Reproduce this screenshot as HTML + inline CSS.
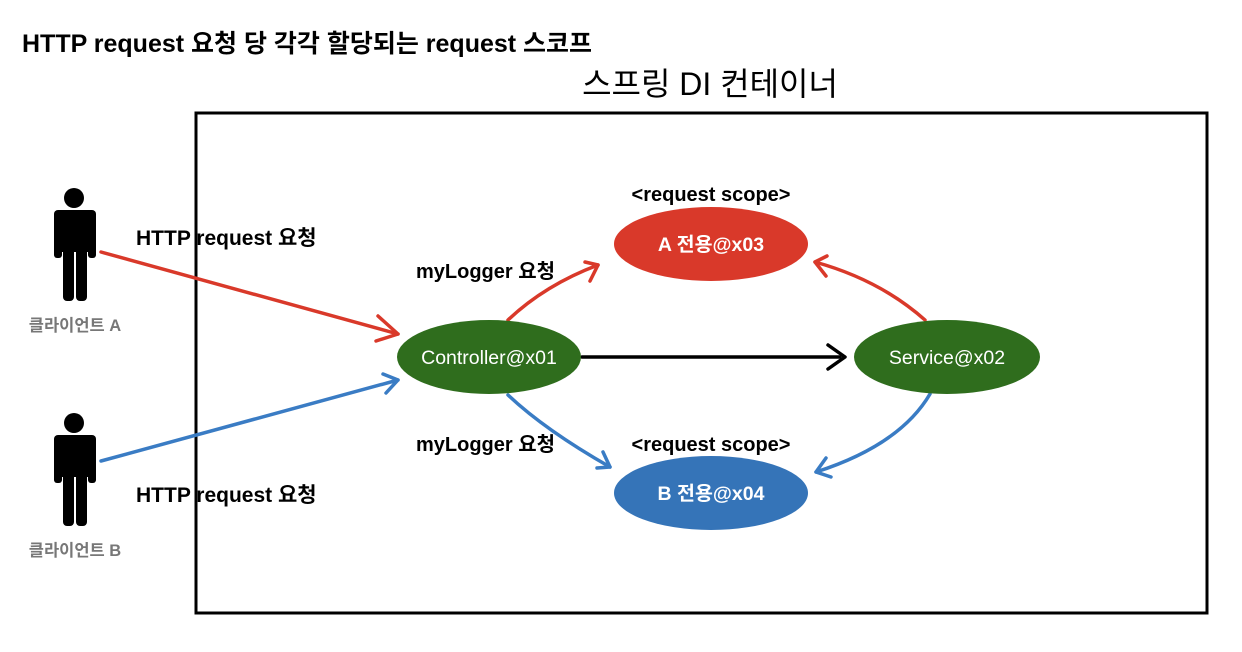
<!DOCTYPE html>
<html><head><meta charset="utf-8"><style>
html,body{margin:0;padding:0;background:#fff}
svg{display:block}
text{font-family:"Liberation Sans","Noto Sans CJK KR",sans-serif}
</style></head><body>
<svg width="1242" height="652" viewBox="0 0 1242 652" xmlns="http://www.w3.org/2000/svg">
<text x="22" y="52" font-size="25" font-weight="bold" fill="#000">HTTP request 요청 당 각각 할당되는 request 스코프</text>
<text x="710" y="95" font-size="32" text-anchor="middle" fill="#000">스프링 DI 컨테이너</text>
<rect x="196" y="113" width="1011" height="500" fill="none" stroke="#000" stroke-width="3"/>

<g fill="#000">
<circle cx="74" cy="198" r="10"/>
<rect x="54" y="210" width="42" height="10" rx="4"/>
<rect x="54" y="212" width="8" height="46" rx="3"/>
<rect x="88" y="212" width="8" height="46" rx="3"/>
<rect x="62" y="212" width="26" height="40"/>
<rect x="63" y="245" width="11" height="56" rx="4"/>
<rect x="76" y="245" width="11" height="56" rx="4"/>
<circle cx="74" cy="423" r="10"/>
<rect x="54" y="435" width="42" height="10" rx="4"/>
<rect x="54" y="437" width="8" height="46" rx="3"/>
<rect x="88" y="437" width="8" height="46" rx="3"/>
<rect x="62" y="437" width="26" height="40"/>
<rect x="63" y="470" width="11" height="56" rx="4"/>
<rect x="76" y="470" width="11" height="56" rx="4"/>
</g>
<text x="75" y="331" font-size="16.5" font-weight="bold" fill="#777" text-anchor="middle">클라이언트 A</text>
<text x="75" y="556" font-size="16.5" font-weight="bold" fill="#777" text-anchor="middle">클라이언트 B</text>
<text x="136" y="245" font-size="21" font-weight="bold" fill="#000">HTTP request 요청</text>
<text x="136" y="502" font-size="21" font-weight="bold" fill="#000">HTTP request 요청</text>

<g fill="none" stroke-width="3.5" stroke-linecap="round" stroke-linejoin="round">
<path d="M101,252 L398,334" stroke="#d9392a"/>
<path d="M378,316 L398,334 L376,341" stroke="#d9392a"/>
<path d="M101,461 L398,380" stroke="#3a7cc4"/>
<path d="M383,374 L398,380 L386,393" stroke="#3a7cc4"/>
<path d="M582,357 L840,357" stroke="#000"/>
<path d="M828,345 L845,357 L828,369" stroke="#000"/>
<path d="M508,320 Q545,285 598,265" stroke="#d9392a"/>
<path d="M585,262 L598,265 L590,281" stroke="#d9392a"/>
<path d="M508,395 Q545,430 610,467" stroke="#3a7cc4"/>
<path d="M597,468 L610,467 L603,452" stroke="#3a7cc4"/>
<path d="M925,320 Q880,280 815,262" stroke="#d9392a"/>
<path d="M827,256 L815,262 L826,276" stroke="#d9392a"/>
<path d="M930,394 Q900,445 816,472" stroke="#3a7cc4"/>
<path d="M826,458 L816,472 L831,477" stroke="#3a7cc4"/>
</g>

<text x="416" y="278" font-size="20" font-weight="bold" fill="#000">myLogger 요청</text>
<text x="416" y="451" font-size="20" font-weight="bold" fill="#000">myLogger 요청</text>
<text x="711" y="201" font-size="20" font-weight="bold" fill="#000" text-anchor="middle">&lt;request scope&gt;</text>
<text x="711" y="451" font-size="20" font-weight="bold" fill="#000" text-anchor="middle">&lt;request scope&gt;</text>

<ellipse cx="489" cy="357" rx="92" ry="37" fill="#2f6d1d"/>
<ellipse cx="947" cy="357" rx="93" ry="37" fill="#2f6d1d"/>
<ellipse cx="711" cy="244" rx="97" ry="37" fill="#d9392a"/>
<ellipse cx="711" cy="493" rx="97" ry="37" fill="#3574b8"/>
<text x="489" y="364" font-size="19.5" fill="#fff" text-anchor="middle">Controller@x01</text>
<text x="947" y="364" font-size="19.5" fill="#fff" text-anchor="middle">Service@x02</text>
<text x="711" y="251" font-size="19.5" font-weight="bold" fill="#fff" text-anchor="middle">A 전용@x03</text>
<text x="711" y="500" font-size="19.5" font-weight="bold" fill="#fff" text-anchor="middle">B 전용@x04</text>
</svg>
</body></html>
